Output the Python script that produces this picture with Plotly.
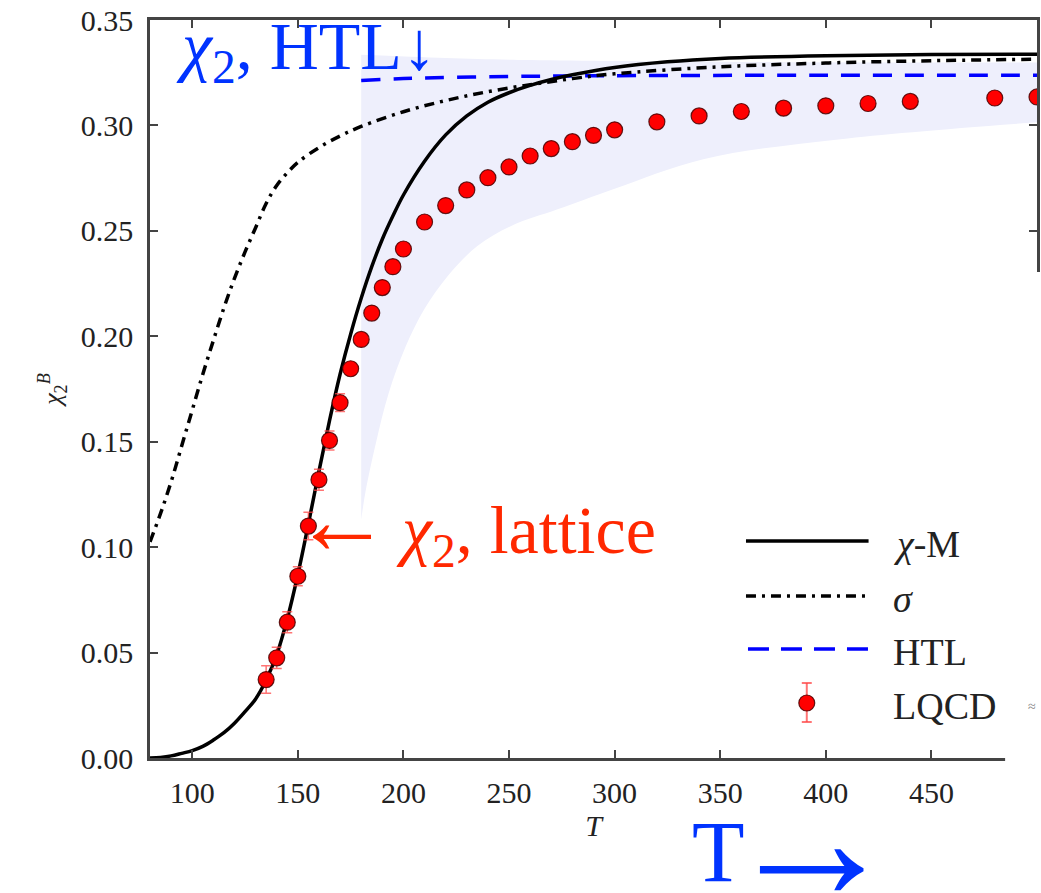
import plotly.graph_objects as go

# ---------------- data ----------------
T_chiM = [80, 85, 90, 95, 100, 105, 110, 115, 120, 125, 130, 135, 140, 145, 150, 155, 160, 165,
          170, 175, 180, 185, 190, 195, 200, 210, 220, 230, 240, 250, 260, 270, 280, 300, 325,
          350, 400, 450, 500]
chiM = [0.0, 0.0003, 0.001, 0.0022, 0.0035, 0.0055, 0.0085, 0.012, 0.0165, 0.022, 0.028, 0.037,
        0.049, 0.066, 0.087, 0.111, 0.136, 0.160, 0.182, 0.201, 0.218, 0.233, 0.246, 0.257, 0.267,
        0.283, 0.2955, 0.3045, 0.311, 0.3155, 0.319, 0.3218, 0.324, 0.3275, 0.3302, 0.3318, 0.3331,
        0.3336, 0.3338]

T_sigma = [80, 85, 90, 95, 100, 105, 110, 115, 120, 125, 130, 135, 140, 145, 150, 160, 170, 180,
           200, 220, 240, 260, 280, 300, 350, 400, 450, 500]
sigma = [0.1025, 0.116, 0.131, 0.148, 0.165, 0.182, 0.198, 0.2135, 0.2275, 0.240, 0.2515, 0.263,
         0.2715, 0.2775, 0.2825, 0.2895, 0.295, 0.2995, 0.3065, 0.3118, 0.316, 0.3193, 0.3222,
         0.3245, 0.3278, 0.3296, 0.3307, 0.3314]

T_htl = [180, 200, 250, 300, 400, 500]
htl = [0.3213, 0.3222, 0.3232, 0.3236, 0.3238, 0.3238]

T_band_lo = [180, 182, 187, 193, 201, 210, 221, 235, 251, 273, 300, 342, 407, 500]
band_lo = [0.113, 0.126, 0.1495, 0.173, 0.195, 0.213, 0.2286, 0.2428, 0.2523, 0.2602, 0.270,
           0.284, 0.2935, 0.3015]
T_band_hi = [180, 220, 260, 350, 500]
band_hi = [0.3335, 0.332, 0.331, 0.3302, 0.3298]

T_lat = [135, 140, 145, 150, 155, 160, 165, 170, 175, 180, 185, 190, 195, 200, 210, 220, 230,
         240, 250, 260, 270, 280, 290, 300, 320, 340, 360, 380, 400, 420, 440, 480, 500]
lat = [0.0372, 0.0475, 0.0644, 0.0862, 0.110, 0.132, 0.1506, 0.1685, 0.1846, 0.1985, 0.2110,
       0.2231, 0.2330, 0.2414, 0.2542, 0.2620, 0.2694, 0.2752, 0.2803, 0.2855, 0.2890, 0.2923,
       0.2953, 0.2979, 0.3017, 0.3045, 0.3066, 0.3082, 0.3093, 0.3104, 0.3114, 0.3130, 0.3135]
lat_err = [0.0065, 0.005, 0.005, 0.0045, 0.0065, 0.005, 0.0045, 0.0042, 0.003, 0.003, 0.003, 0.003,
           0.003, 0.003, 0.003, 0.003, 0.003, 0.003, 0.003, 0.003, 0.003, 0.003, 0.003, 0.003,
           0.003, 0.003, 0.003, 0.003, 0.003, 0.003, 0.003, 0.003, 0.003]

x_ticks = [100, 150, 200, 250, 300, 350, 400, 450]
y_ticks = [0.00, 0.05, 0.10, 0.15, 0.20, 0.25, 0.30, 0.35]

legend_labels = ["<i>χ</i>-M", "<i>σ</i>", "HTL", "LQCD"]

# ---------------- figure ----------------
W, H = 1041, 893
ML, MR, MT, MB = 150, 1, 20, 135
PW, PH = W - ML - MR, H - MT - MB

def px(xp):
    return (xp - ML) / PW

def py(yp):
    return (H - MB - yp) / PH

SERIF = "Liberation Serif"
BAND = "rgb(238,239,252)"
ERRC = "rgba(255,70,70,0.75)"
BLUE_TXT = "#0033ff"
RED_TXT = "#ff2800"

fig = go.Figure()

fig.add_trace(go.Scatter(x=T_band_lo, y=band_lo, mode="lines", line=dict(width=0, shape="spline"),
                         showlegend=False, hoverinfo="skip"))
fig.add_trace(go.Scatter(x=T_band_hi, y=band_hi, mode="lines", line=dict(width=0, shape="spline"),
                         fill="tonexty", fillcolor=BAND, showlegend=False, hoverinfo="skip"))
fig.add_trace(go.Scatter(x=T_htl, y=htl, mode="lines", name="HTL",
                         line=dict(color="#0000ff", width=3.5, dash="19px,13px", shape="spline")))
fig.add_trace(go.Scatter(x=T_sigma, y=sigma, mode="lines", name="σ",
                         line=dict(color="black", width=3.5, dash="10px,6px,3px,6px", shape="spline")))
fig.add_trace(go.Scatter(x=T_chiM, y=chiM, mode="lines", name="χ-M",
                         line=dict(color="black", width=3.5, shape="spline")))
fig.add_trace(go.Scatter(x=T_lat, y=lat, mode="markers", name="LQCD",
                         marker=dict(color="#ff0000", size=16,
                                     line=dict(color="rgba(70,0,0,0.85)", width=1.2)),
                         error_y=dict(type="data", array=lat_err, color=ERRC,
                                      thickness=1.5, width=5)))

shapes = []
annotations = []

# cropped-looking right-bottom corner of the original picture
shapes.append(dict(type="rect", xref="paper", yref="paper", x0=px(1008), x1=px(1045),
                   y0=py(900), y1=py(272), fillcolor="white", line=dict(width=0), layer="above"))

# manual legend (long line samples like the original)
lx0, lx1 = 748, 871
leg_y = [541, 596, 649, 703]
shapes.append(dict(type="line", xref="paper", yref="paper", x0=px(lx0), x1=px(lx1),
                   y0=py(leg_y[0]), y1=py(leg_y[0]), line=dict(color="black", width=3.5)))
shapes.append(dict(type="line", xref="paper", yref="paper", x0=px(lx0), x1=px(lx1),
                   y0=py(leg_y[1]), y1=py(leg_y[1]),
                   line=dict(color="black", width=3.5, dash="10px,6px,3px,6px")))
shapes.append(dict(type="line", xref="paper", yref="paper", x0=px(lx0 + 2), x1=px(lx1),
                   y0=py(leg_y[2]), y1=py(leg_y[2]),
                   line=dict(color="#0000ff", width=3.5, dash="21px,12px")))
cx, cy = 809, leg_y[3]
shapes.append(dict(type="line", xref="paper", yref="paper", x0=px(cx), x1=px(cx),
                   y0=py(cy - 20), y1=py(cy + 19), line=dict(color=ERRC, width=2)))
for yy in (cy - 20, cy + 19):
    shapes.append(dict(type="line", xref="paper", yref="paper", x0=px(cx - 5), x1=px(cx + 5),
                       y0=py(yy), y1=py(yy), line=dict(color=ERRC, width=2)))
shapes.append(dict(type="circle", xref="paper", yref="paper", x0=px(cx - 8), x1=px(cx + 8),
                   y0=py(cy - 8), y1=py(cy + 8), fillcolor="#ff0000",
                   line=dict(color="rgba(70,0,0,0.85)", width=1.2)))

for lab, yy in zip(legend_labels, leg_y):
    annotations.append(dict(text=lab, xref="paper", yref="paper", x=px(894), y=py(yy + 3),
                            xanchor="left", yanchor="middle", showarrow=False,
                            font=dict(family=SERIF, size=38, color="#222")))

annotations.append(dict(text="≈", xref="paper", yref="paper", x=px(1035), y=py(706),
                        xanchor="center", yanchor="middle", showarrow=False,
                        font=dict(family=SERIF, size=14, color="#888")))

# overlaid slide annotations
annotations.append(dict(text="<i>χ</i><sub>2</sub>, HTL↓", xref="paper", yref="paper",
                        x=px(174), y=py(50), xanchor="left", yanchor="middle", showarrow=False,
                        font=dict(family=SERIF, size=68, color=BLUE_TXT)))
annotations.append(dict(text="<span style='font-size:98px'>←</span><span style='font-size:44px'> </span>"
                             "<i>χ</i><sub>2</sub>, lattice",
                        xref="paper", yref="paper",
                        x=px(291), y=py(521), xanchor="left", yanchor="middle", showarrow=False,
                        font=dict(family=SERIF, size=68, color=RED_TXT)))
annotations.append(dict(text="T", xref="paper", yref="paper",
                        x=px(692), y=py(852), xanchor="left", yanchor="middle", showarrow=False,
                        font=dict(family=SERIF, size=86, color=BLUE_TXT)))
annotations.append(dict(text="→", xref="paper", yref="paper",
                        x=px(724), y=py(840), xanchor="left", yanchor="middle", showarrow=False,
                        font=dict(family=SERIF, size=175, color=BLUE_TXT)))

axis_common = dict(showline=True, linecolor="#444", linewidth=2.5, mirror="ticks",
                   ticks="inside", ticklen=8, tickwidth=1.5, tickcolor="#444",
                   showgrid=False, zeroline=False,
                   tickfont=dict(family=SERIF, size=30, color="#222"))

fig.update_layout(
    width=W, height=H,
    margin=dict(l=ML, r=MR, t=MT, b=MB, pad=0),
    paper_bgcolor="white", plot_bgcolor="white",
    showlegend=False,
    font=dict(family=SERIF),
    shapes=shapes, annotations=annotations,
    xaxis=dict(range=[80, 500], tickvals=x_ticks, ticktext=[str(v) for v in x_ticks],
               title=dict(text="<i>T</i>", font=dict(family=SERIF, size=30, color="#222"),
                          standoff=6),
               ticklabelstandoff=6, **axis_common),
    yaxis=dict(range=[0, 0.35], tickvals=y_ticks, ticktext=[f"{v:.2f}" for v in y_ticks],
               title=dict(text="<i>χ</i><sub>2</sub><sup><i>B</i></sup>",
                          font=dict(family=SERIF, size=26, color="#222"), standoff=12),
               ticklabelstandoff=8, **axis_common),
)

fig.write_html("out.html")
